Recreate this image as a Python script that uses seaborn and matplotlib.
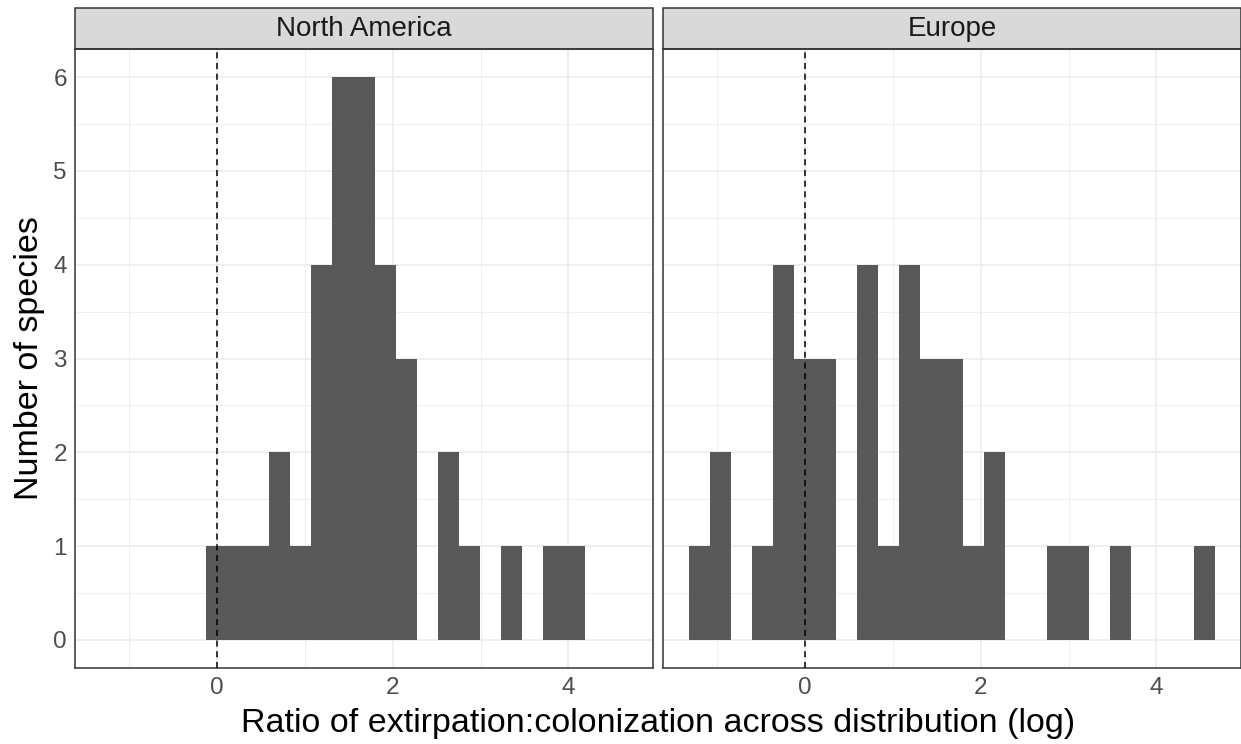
import matplotlib
matplotlib.use("Agg")
import matplotlib.pyplot as plt
from matplotlib.patches import Rectangle
import seaborn as sns
import pandas as pd
import numpy as np

# Histogram: common bins for both panels
bin_start = -1.313
bin_width = 0.239
n_bins = 25

regions = ["North America", "Europe"]
na_counts = [0, 0, 0, 0, 0, 1, 1, 1, 2, 1, 4, 6, 6, 4, 3, 0, 2, 1, 0, 1, 0, 1, 1, 0, 0]
eu_counts = [1, 2, 0, 1, 4, 3, 3, 0, 4, 1, 4, 3, 3, 1, 2, 0, 0, 1, 1, 0, 1, 0, 0, 0, 1]

x_ticks = [0, 2, 4]
y_ticks = [0, 1, 2, 3, 4, 5, 6]

x_label = "Ratio of extirpation:colonization across distribution (log)"
y_label = "Number of species"

# Build a long table: one row per bin and region, weighted by count
centers = bin_start + bin_width * (np.arange(n_bins) + 0.5)
df = pd.concat([
    pd.DataFrame({"region": regions[0], "ratio": centers, "n": na_counts}),
    pd.DataFrame({"region": regions[1], "ratio": centers, "n": eu_counts}),
])
df["region"] = pd.Categorical(df["region"], categories=regions, ordered=True)

sns.set_style("white")
plt.rcParams["font.family"] = ["Liberation Sans", "DejaVu Sans"]

g = sns.displot(
    data=df, x="ratio", weights="n", col="region", col_order=regions,
    binwidth=bin_width, binrange=(bin_start, bin_start + bin_width * n_bins),
    color="#595959", alpha=1, linewidth=0, edgecolor="none",
    height=5, aspect=1,
)
fig = g.figure
fig.set_size_inches(12.41, 7.44)

W, H = 1241, 744
panel_w = 578
panel_top, panel_bot = 49, 668
strip_h = 41
lefts = [75, 663]

dark = "#333333"
grid_c = "#EBEBEB"

for i, ax in enumerate(g.axes.flat):
    ax.set_position([lefts[i] / W, 1 - panel_bot / H, panel_w / W, (panel_bot - panel_top) / H])
    ax.set_title("")
    ax.set_xlim(-1.612, 4.961)
    ax.set_ylim(-0.3, 6.3)
    ax.set_xticks(x_ticks)
    ax.set_xticks([-1, 1, 3], minor=True)
    ax.set_yticks(y_ticks)
    ax.set_yticks([0.5, 1.5, 2.5, 3.5, 4.5, 5.5], minor=True)
    ax.set_axisbelow(True)
    ax.grid(which="major", color=grid_c, linewidth=1.1)
    ax.grid(which="minor", color=grid_c, linewidth=0.55)
    for s in ax.spines.values():
        s.set_visible(True)
        s.set_color(dark)
        s.set_linewidth(1.1)
    ax.tick_params(axis="both", which="major", length=3.3, width=1.1, color=dark,
                   labelsize=17.5, labelcolor="#4D4D4D")
    ax.tick_params(axis="x", which="major", pad=3.5)
    ax.tick_params(axis="y", which="major", pad=2.5)
    ax.tick_params(which="minor", length=0)
    ax.set_xlabel("")
    ax.set_ylabel("")
    ax.axvline(0, color="black", linestyle=(0, (4, 3)), linewidth=1.1, zorder=3)
    if i == 1:
        ax.tick_params(axis="y", which="major", length=0, labelleft=False)

    # facet strip
    h_ax = strip_h / (panel_bot - panel_top)
    ax.add_patch(Rectangle((0, 1), 1, h_ax, transform=ax.transAxes, clip_on=False,
                           facecolor="#D9D9D9", edgecolor=dark, linewidth=1.1))
    ax.text(0.5, 1 + h_ax / 2, regions[i], transform=ax.transAxes,
            ha="center", va="center", fontsize=20, color="#1A1A1A")

fig.text((75 + 1241) / 2 / W, 1 - 732 / H, x_label, ha="center", va="baseline",
         fontsize=24.5, color="black")
fig.text(30 / W, 1 - ((panel_top + panel_bot) / 2) / H, y_label, ha="center", va="center",
         rotation=90, fontsize=24.5, color="black")

fig.savefig("out.png", dpi=100, facecolor="white")
